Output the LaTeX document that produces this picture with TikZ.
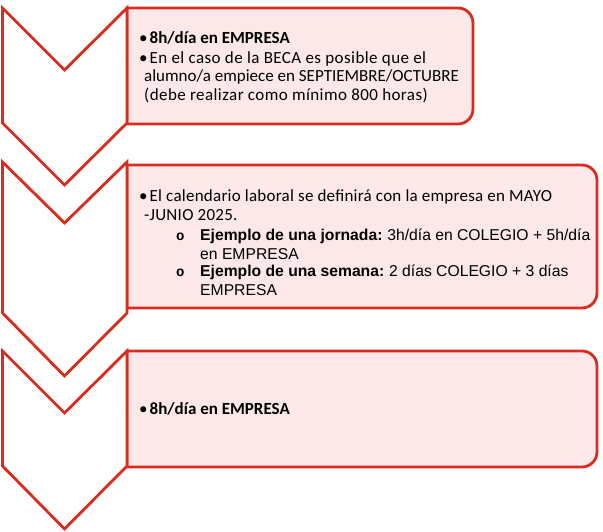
\documentclass[tikz,border=0pt]{standalone}
\usepackage{fontspec}
\setmainfont{Carlito}
\newfontfamily\calfam{Carlito}
\newfontfamily\calwide{Carlito}[LetterSpace=1.5]
\newfontfamily\calwider{Carlito}[LetterSpace=2.5]
\newfontfamily\arifam{Liberation Sans}
\newfontfamily\monofam{Liberation Mono}
\definecolor{chevred}{HTML}{D92B1E}
\definecolor{boxpink}{HTML}{FCE8E8}
\tikzset{
  shapeline/.style={draw=chevred, line width=2.8pt, line join=miter},
  boxshape/.style={shapeline, fill=boxpink},
  chevshape/.style={shapeline, fill=white},
  caltext/.style={anchor=base west, inner sep=0pt, font=\calfam\fontsize{17}{19}\selectfont},
  calwidetext/.style={anchor=base west, inner sep=0pt, font=\calwide\fontsize{17}{19}\selectfont},
  calwidertext/.style={anchor=base west, inner sep=0pt, font=\calwider\fontsize{17}{19}\selectfont},
  aritext/.style={anchor=base west, inner sep=0pt, font=\arifam\fontsize{15.7}{18}\selectfont},
  obullet/.style={anchor=base west, inner sep=0pt, font=\monofam\bfseries\fontsize{14}{16}\selectfont}
}
\begin{document}
\begin{tikzpicture}[x=1pt,y=-1pt]
\useasboundingbox (0,0) rectangle (603,531);
% boxes
\draw[boxshape] (127,8) -- (458,8) arc[start angle=90,end angle=0,radius=15pt]
  -- (473,109) arc[start angle=0,end angle=-90,radius=15pt] -- (127,124) -- cycle;
\draw[boxshape] (127,165) -- (582,165) arc[start angle=90,end angle=0,radius=15pt]
  -- (597,293) arc[start angle=0,end angle=-90,radius=15pt] -- (127,308) -- cycle;
\draw[boxshape] (127,351) -- (582,351) arc[start angle=90,end angle=0,radius=15pt]
  -- (597,452) arc[start angle=0,end angle=-90,radius=15pt] -- (127,467) -- cycle;
% chevrons
\draw[chevshape] (2.5,8) -- (64.5,70) -- (127,8) -- (127,123) -- (64.5,185) -- (2.5,123) -- cycle;
\draw[chevshape] (2.5,162) -- (64.5,223) -- (127,162) -- (127,313) -- (64.5,376) -- (2.5,313) -- cycle;
\draw[chevshape] (2.5,351) -- (64.5,413) -- (127,351) -- (127,466) -- (64.5,529) -- (2.5,466) -- cycle;
% box 1 text
\node[caltext] (t1a) at (139,43.3) {•\hspace{2pt}\bfseries 8h/día en EMPRESA};
\node[calwidertext] (t1b) at (139,63.3) {•\hspace{2pt}En el caso de la BECA es posible que el};
\node[caltext] (t1c) at (144,81.7) {alumno/a empiece en SEPTIEMBRE/OCTUBRE};
\node[calwidertext] (t1d) at (144,100) {(debe realizar como mínimo 800 horas)};
% box 2 text
\node[calwidetext] (t2a) at (139,201.7) {•\hspace{2pt}El calendario laboral se definirá con la empresa en MAYO};
\node[calwidetext] (t2b) at (144,220) {-JUNIO 2025.};
\node[obullet] (o2c) at (176,240) {o};
\node[aritext] (t2c) at (200,240) {\textbf{Ejemplo de una jornada:}\hspace{-1pt} 3h/día en COLEGIO + 5h/día};
\node[aritext] (t2d) at (200,259) {en EMPRESA};
\node[obullet] (o2e) at (176,276.7) {o};
\node[aritext] (t2e) at (200,276.7) {\textbf{Ejemplo de una semana:}\hspace{-1pt} 2 días COLEGIO + 3 días};
\node[aritext] (t2f) at (200,295.7) {EMPRESA};
% box 3 text
\node[caltext] (t3a) at (139,414) {•\hspace{2pt}\bfseries 8h/día en EMPRESA};
\end{tikzpicture}
\end{document}
